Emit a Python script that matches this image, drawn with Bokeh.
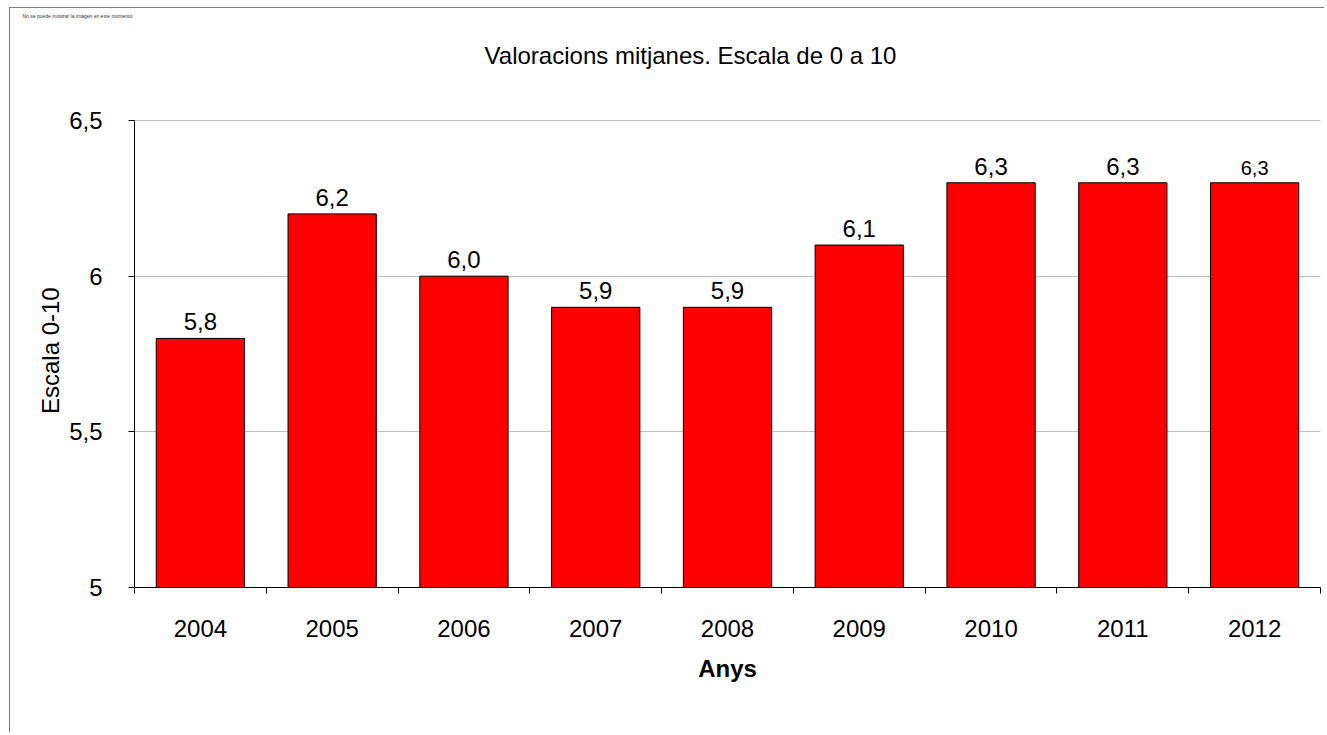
from bokeh.plotting import figure
from bokeh.models import ColumnDataSource, FixedTicker, Range1d
from bokeh.embed import file_html
from bokeh.resources import INLINE
from bokeh.core.properties import value

years = ["2004", "2005", "2006", "2007", "2008", "2009", "2010", "2011", "2012"]
scores = [5.8, 6.2, 6.0, 5.9, 5.9, 6.1, 6.3, 6.3, 6.3]
score_labels = ["5,8", "6,2", "6,0", "5,9", "5,9", "6,1", "6,3", "6,3", "6,3"]
label_sizes = ["24px"] * 8 + ["20px"]
y_ticks = [5, 5.5, 6, 6.5]
y_tick_labels = ["5", "5,5", "6", "6,5"]
title_text = "Valoracions mitjanes. Escala de 0 a 10"
placeholder_text = "No se puede mostrar la imagen en este momento."
y_label_text = "Escala 0-10"
x_label_text = "Anys"

FONT = "Liberation Sans"
FS = "24px"
Y_MIN, Y_AXIS_MAX = 5, 6.5
Y_FRAME_TOP = 6.8212  # frame extends above the axis so the title can sit inside it

xpos = [i + 0.5 for i in range(len(years))]
src = ColumnDataSource(dict(x=xpos, top=scores, lab=score_labels, fs=label_sizes))

p = figure(width=1315, height=725, output_backend="svg", toolbar_location=None,
           x_range=Range1d(0, len(years)), y_range=Range1d(Y_MIN, Y_FRAME_TOP),
           min_border_left=124, min_border_right=5, min_border_top=12,
           min_border_bottom=146)
p.background_fill_color = "white"
p.border_fill_color = "white"
p.outline_line_color = None

# tiny placeholder text at the very top
p.title.text = placeholder_text
p.title.text_font = FONT
p.title.text_font_size = "5px"
p.title.text_font_style = "normal"
p.title.text_color = "#333333"
p.title.align = "left"
p.title.offset = -112
p.title.standoff = 0
p.title.vertical_align = "top"

# main title drawn inside the (extended) frame
p.text(x=[len(years) / 2], y=[Y_FRAME_TOP], text=[title_text], text_font=value(FONT),
       text_font_size=FS, text_align="center", text_baseline="middle",
       x_offset=-37, y_offset=35, text_color="black")

p.vbar(x="x", top="top", bottom=Y_MIN, width=0.67, source=src,
       fill_color="#FF0000", line_color="black", line_width=1)
p.text(x="x", y="top", text="lab", source=src, text_font=value(FONT),
       text_font_size="fs", text_align="center", text_baseline="bottom",
       y_offset=-8, text_color="black")

# x axis: labels at category centers, ticks at category boundaries
xt = FixedTicker(ticks=xpos, minor_ticks=list(range(len(years) + 1)))
p.xaxis.ticker = xt
p.xaxis.major_label_overrides = {x: y for x, y in zip(xpos, years)}
p.xaxis.major_tick_out = 0
p.xaxis.major_tick_in = 0
p.xaxis.minor_tick_out = 6
p.xaxis.minor_tick_in = 0
p.xaxis.major_label_standoff = 26
p.xaxis.axis_label = x_label_text
p.xaxis.axis_label_text_font_style = "bold"
p.xaxis.axis_label_standoff = 15

p.yaxis.ticker = FixedTicker(ticks=y_ticks, minor_ticks=[])
p.yaxis.bounds = (Y_MIN, Y_AXIS_MAX)
p.yaxis.major_label_overrides = {t: l for t, l in zip(y_ticks, y_tick_labels)}
p.yaxis.major_tick_out = 6
p.yaxis.major_tick_in = 0
p.yaxis.major_label_standoff = 26
# trailing no-break spaces shift the centred label down to the middle of the 5-6.5 axis
p.yaxis.axis_label = y_label_text + "\u00a0" * 14
p.yaxis.axis_label_text_font_style = "normal"
p.yaxis.axis_label_standoff = 2

for ax in (p.xaxis, p.yaxis):
    ax.axis_line_color = "black"
    ax.major_tick_line_color = "black"
    ax.minor_tick_line_color = "black"
    ax.major_label_text_font = FONT
    ax.major_label_text_font_size = FS
    ax.major_label_text_color = "black"
    ax.axis_label_text_font = FONT
    ax.axis_label_text_font_size = FS
    ax.axis_label_text_color = "black"

p.xgrid.grid_line_color = None
p.ygrid.ticker = FixedTicker(ticks=y_ticks[1:])
p.ygrid.grid_line_color = "#c0c0c0"
p.ygrid.grid_line_width = 1

p.styles = {"margin-left": "9px", "margin-top": "7px",
            "border-left": "1px solid #808080", "border-top": "1px solid #808080"}

open("out.html", "w").write(file_html(p, INLINE))
